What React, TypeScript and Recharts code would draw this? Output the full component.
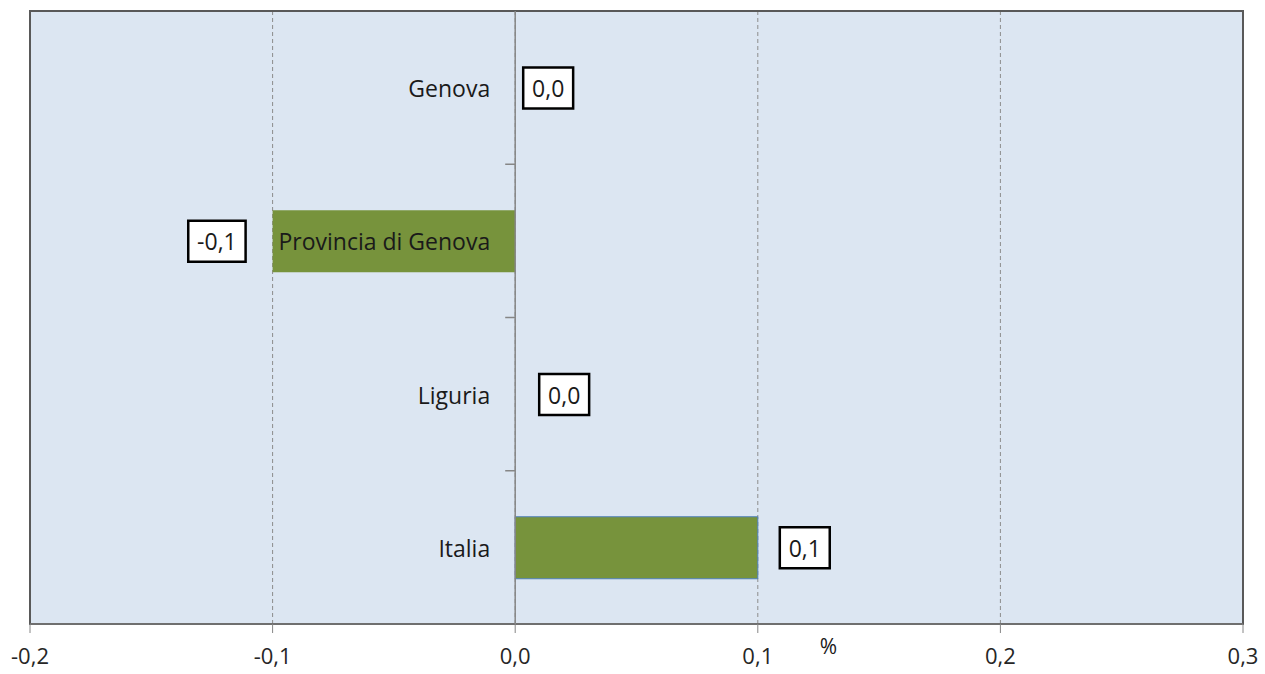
import React from "react";
import { BarChart, Bar, XAxis, YAxis, CartesianGrid, ReferenceLine, ReferenceArea, LabelList, Label, Cell } from "recharts";

const categories = ["Genova", "Provincia di Genova", "Liguria", "Italia"];
const values = [0.0, -0.1, 0.0, 0.1];
const xTicks = [-0.2, -0.1, 0, 0.1, 0.2, 0.3];

const data = categories.map((name, i) => ({ name, value: values[i] }));

const FONT = "'Open Sans', sans-serif";
const fmt = (v: number) => v.toFixed(1).replace(".", ",");

// gap between bar end and its value box (zero bars were nudged by hand in the original)
const labelGap = [7, 27, 23, 22];

function textWidth(s: string, size: number) {
  let w = 0;
  for (const ch of s) w += ch === "," ? 0.245 : ch === "-" ? 0.322 : 0.572;
  return w * size;
}

function ValueLabel(props: any) {
  const { x, y, width, height, index } = props;
  const v = values[index];
  const left = Math.min(x, x + width);
  const right = Math.max(x, x + width);
  const text = fmt(v);
  const boxW = textWidth(text, 23) + 18;
  const boxH = 41;
  const bx = v < 0 ? left - labelGap[index] - boxW : right + labelGap[index];
  const cy = y + height / 2;
  return (
    <g>
      <rect x={bx} y={cy - boxH / 2} width={boxW} height={boxH} fill="#fff" stroke="#000" strokeWidth={2.5} />
      <text x={bx + boxW / 2} y={cy} textAnchor="middle" dominantBaseline="central" fontFamily={FONT} fontSize={23} fill="#1a1a1a">
        {text}
      </text>
    </g>
  );
}

function CategoryLabel(props: any) {
  const { x, y, width, height, value } = props;
  const v = values[categories.indexOf(value)];
  const zero = v < 0 ? Math.max(x, x + width) : Math.min(x, x + width);
  return (
    <text x={zero - 25} y={y + height / 2} textAnchor="end" dominantBaseline="central" fontFamily={FONT} fontSize={23} fill="#1a1a1a">
      {value}
    </text>
  );
}

// category axis at zero, with small ticks between the bands
function ZeroAxis(props: any) {
  const { x1, y1, x2, y2 } = props;
  const top = Math.min(y1, y2);
  const h = Math.abs(y2 - y1);
  const n = categories.length;
  return (
    <g stroke="#868686" strokeWidth={1.5}>
      <line x1={x1} y1={y1} x2={x2} y2={y2} />
      {categories.slice(1).map((_, i) => {
        const yy = top + (h * (i + 1)) / n;
        return <line key={i} x1={x1 - 10} y1={yy} x2={x1} y2={yy} />;
      })}
    </g>
  );
}

export default function App() {
  return (
    <div style={{ position: "absolute", left: 0, top: 0, width: 1265, height: 674, background: "#fff" }}>
      <BarChart
        width={1265}
        height={674}
        data={data}
        layout="vertical"
        margin={{ top: 11, right: 22, left: 30, bottom: 10 }}
      >
        <CartesianGrid
          yAxisId="cat"
          horizontal={false}
          fill="#DCE6F2"
          stroke="#8c8c8c"
          strokeDasharray="4 3"
        />
        <XAxis
          type="number"
          domain={[-0.2, 0.3]}
          ticks={xTicks}
          allowDataOverflow
          height={40}
          tickFormatter={fmt}
          tick={{ fill: "#262626", fontSize: 22, fontFamily: FONT }}
          tickSize={9}
          tickMargin={15}
          axisLine={{ stroke: "#868686" }}
          tickLine={{ stroke: "#868686" }}
        >
          <Label value="%" position="insideTop" dx={192} dy={10} fill="#1a1a1a" fontSize={21} fontFamily={FONT} />
        </XAxis>
        <YAxis yAxisId="cat" type="category" dataKey="name" hide />
        <ReferenceArea yAxisId="cat" x1={-0.2} x2={0.3} fill="none" stroke="#595959" strokeWidth={2} ifOverflow="visible" />
        <ReferenceLine yAxisId="cat" x={0} shape={<ZeroAxis />} />
        <Bar yAxisId="cat" dataKey="value" barSize={62} minPointSize={1} isAnimationActive={false}>
          {data.map((d, i) => (
            <Cell
              key={i}
              fill={d.value === 0 ? "none" : "#77933C"}
              stroke={d.value > 0 ? "#4F81BD" : "none"}
              strokeWidth={1}
            />
          ))}
          <LabelList dataKey="name" content={<CategoryLabel />} />
          <LabelList dataKey="value" content={<ValueLabel />} />
        </Bar>
      </BarChart>
    </div>
  );
}
